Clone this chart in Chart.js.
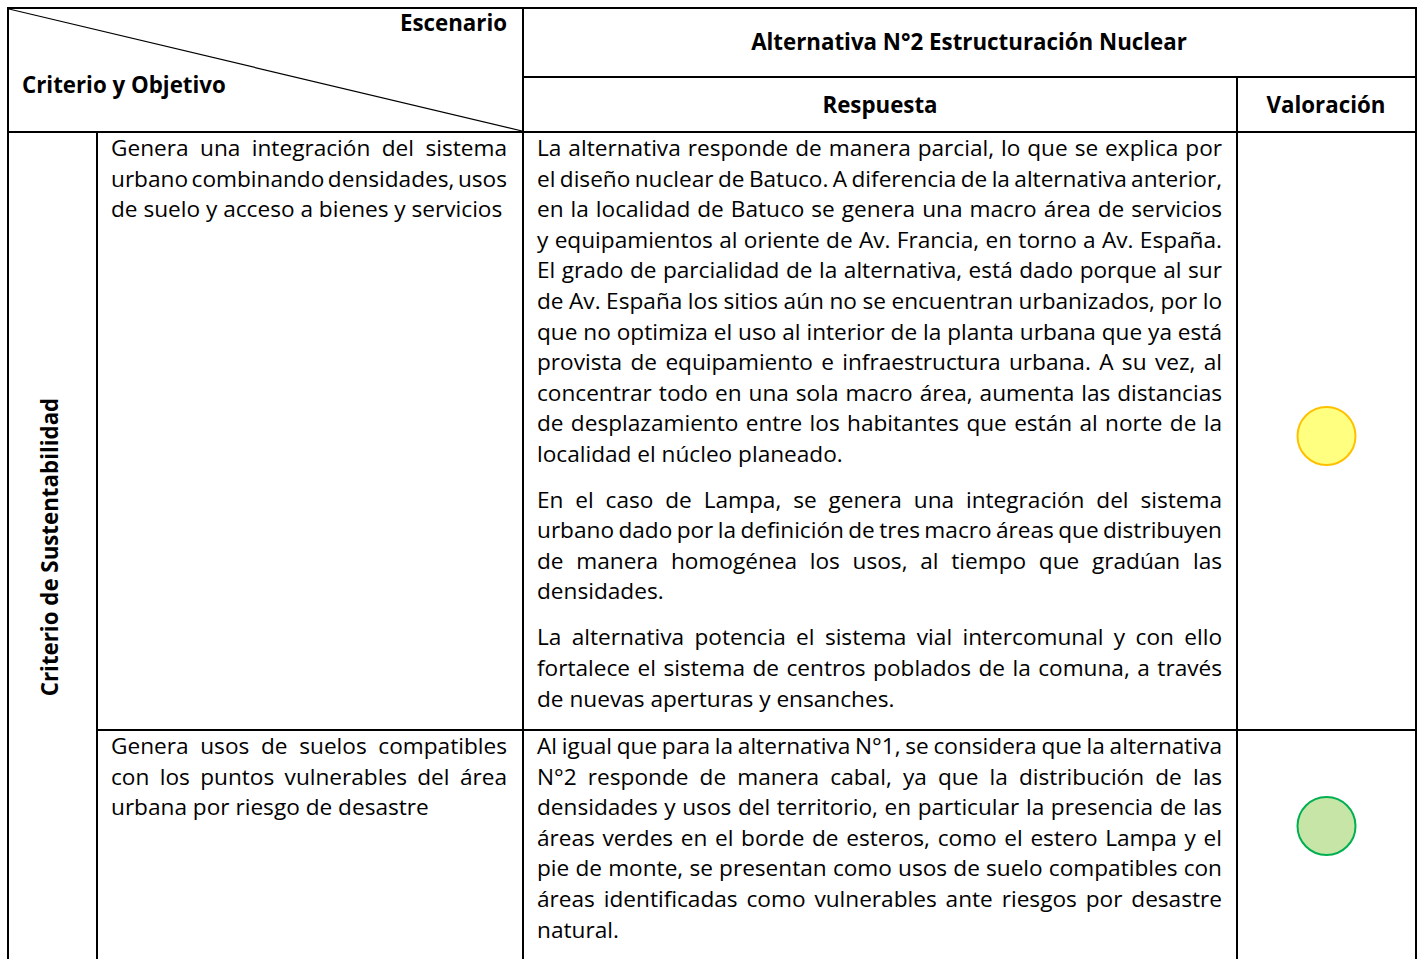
<!DOCTYPE html>
<html><head><meta charset="utf-8">
<script src="https://cdn.jsdelivr.net/npm/chart.js@4.4.1/dist/chart.umd.min.js"></script>
<style>
html,body{margin:0;padding:0;background:#fff;}
#wrap{position:relative;width:1419px;height:959px;overflow:hidden;font-family:"Open Sans",sans-serif;color:#000;}
.ln{position:absolute;background:#000;}
.t{position:absolute;white-space:nowrap;line-height:30px;height:30px;}
canvas{position:absolute;}
</style></head><body><div id="wrap"></div>
<script>
// ---------- DATA ----------
const headerScenario = 'Escenario';
const headerCriterion = 'Criterio y Objetivo';
const headerAlternative = 'Alternativa N°2 Estructuración Nuclear';
const headerAnswer = 'Respuesta';
const headerRating = 'Valoración';
const criterion = 'Criterio de Sustentabilidad';
const objectives = [
  ['Genera una integración del sistema', 'urbano combinando densidades, usos', 'de suelo y acceso a bienes y servicios'],
  ['Genera usos de suelos compatibles', 'con los puntos vulnerables del área', 'urbana por riesgo de desastre']
];
const answers = [
  [
    ['La alternativa responde de manera parcial, lo que se explica por',
     'el diseño nuclear de Batuco. A diferencia de la alternativa anterior,',
     'en la localidad de Batuco se genera una macro área de servicios',
     'y equipamientos al oriente de Av. Francia, en torno a Av. España.',
     'El grado de parcialidad de la alternativa, está dado porque al sur',
     'de Av. España los sitios aún no se encuentran urbanizados, por lo',
     'que no optimiza el uso al interior de la planta urbana que ya está',
     'provista de equipamiento e infraestructura urbana. A su vez, al',
     'concentrar todo en una sola macro área, aumenta las distancias',
     'de desplazamiento entre los habitantes que están al norte de la',
     'localidad el núcleo planeado.'],
    ['En el caso de Lampa, se genera una integración del sistema',
     'urbano dado por la definición de tres macro áreas que distribuyen',
     'de manera homogénea los usos, al tiempo que gradúan las',
     'densidades.'],
    ['La alternativa potencia el sistema vial intercomunal y con ello',
     'fortalece el sistema de centros poblados de la comuna, a través',
     'de nuevas aperturas y ensanches.']
  ],
  [
    ['Al igual que para la alternativa N°1, se considera que la alternativa',
     'N°2 responde de manera cabal, ya que la distribución de las',
     'densidades y usos del territorio, en particular la presencia de las',
     'áreas verdes en el borde de esteros, como el estero Lampa y el',
     'pie de monte, se presentan como usos de suelo compatibles con',
     'áreas identificadas como vulnerables ante riesgos por desastre',
     'natural.']
  ]
];
const ratings = ['Parcial', 'Cabal'];

// ---------- STYLE ----------
const ratingFill = {Parcial: '#FFFF80', Cabal: '#C6E5A7'};
const ratingBorder = {Parcial: '#FFC000', Cabal: '#00B050'};

const wrap = document.getElementById('wrap');
function measure(text, bold){
  const s = document.createElement('span');
  s.style.cssText = 'position:absolute;visibility:hidden;white-space:nowrap;font-size:100px;font-family:"Open Sans";font-weight:' + (bold ? 700 : 400);
  s.textContent = text;
  wrap.appendChild(s);
  const w = s.getBoundingClientRect().width;
  s.remove();
  return w;
}
const FS = 100 * 306 / measure('localidad el núcleo planeado.', false);
const FB = 100 * 436 / measure(headerAlternative, true);
function baseOff(s){ return (30 - 1.362 * s) / 2 + 1.069 * s; }

function line(x1, y1, w, h){
  const d = document.createElement('div');
  d.className = 'ln';
  d.style.left = x1 + 'px'; d.style.top = y1 + 'px';
  d.style.width = w + 'px'; d.style.height = h + 'px';
  wrap.appendChild(d);
}
function text(str, opt){
  const bold = !!opt.bold;
  const s = bold ? FB : FS;
  const d = document.createElement('div');
  d.className = 't';
  d.style.fontSize = s + 'px';
  d.style.fontWeight = bold ? 700 : 400;
  d.style.top = (opt.baseline - baseOff(s)) + 'px';
  d.textContent = str;
  wrap.appendChild(d);
  const w = d.getBoundingClientRect().width;
  if (opt.justify) {
    const spaces = (str.match(/ /g) || []).length;
    if (spaces) d.style.wordSpacing = ((opt.width - w) / spaces) + 'px';
    d.style.left = opt.x + 'px';
  } else if (opt.align === 'center') {
    d.style.left = (opt.cx - w / 2) + 'px';
  } else if (opt.align === 'right') {
    d.style.left = (opt.right - w) + 'px';
  } else {
    d.style.left = opt.x + 'px';
  }
  return d;
}

// ---------- GRID ----------
const BW = 2;
line(7, 7, 1410, BW);            // top
line(7, 7, BW, 960);             // left
line(1415, 7, BW, 960);          // right
line(522, 7, BW, 960);           // objective | answer
line(522, 76, 895, BW);          // header middle
line(1236, 76, BW, 890);         // answer | rating
line(7, 131, 1410, BW);          // header bottom
line(96, 131, BW, 840);          // criterion | objective
line(96, 729, 1321, BW);         // row split
line(7, 961, 1410, BW);          // bottom

// diagonal
const svgNS = 'http://www.w3.org/2000/svg';
const svg = document.createElementNS(svgNS, 'svg');
svg.setAttribute('width', '1419'); svg.setAttribute('height', '959');
svg.style.cssText = 'position:absolute;left:0;top:0;pointer-events:none';
const dl = document.createElementNS(svgNS, 'line');
dl.setAttribute('x1', '9'); dl.setAttribute('y1', '9');
dl.setAttribute('x2', '522'); dl.setAttribute('y2', '131');
dl.setAttribute('stroke', '#000'); dl.setAttribute('stroke-width', '1.2');
svg.appendChild(dl);
wrap.appendChild(svg);

// ---------- HEADERS ----------
text(headerScenario, {bold: true, baseline: 32, align: 'right', right: 507});
text(headerCriterion, {bold: true, baseline: 94, x: 22});
text(headerAlternative, {bold: true, baseline: 51, align: 'center', cx: 969});
text(headerAnswer, {bold: true, baseline: 114, align: 'center', cx: 880});
text(headerRating, {bold: true, baseline: 114, align: 'center', cx: 1326});

// rotated criterion
const rc = document.createElement('div');
rc.textContent = criterion;
rc.style.cssText = 'position:absolute;white-space:nowrap;font-weight:700;line-height:30px;left:50px;top:547px;transform:translate(-50%,-50%) rotate(-90deg);font-size:' + FB + 'px';
wrap.appendChild(rc);

// ---------- BODY ----------
const rowFirstBaseline = [157, 755];
const pitch = 30.55, paraGap = 15.5;
objectives.forEach((lines, r) => {
  lines.forEach((l, i) => {
    const last = i === lines.length - 1;
    text(l, {baseline: rowFirstBaseline[r] + i * pitch, x: 111, width: 396, justify: !last});
  });
});
answers.forEach((paras, r) => {
  let b = rowFirstBaseline[r];
  paras.forEach(p => {
    p.forEach((l, i) => {
      const last = i === p.length - 1;
      text(l, {baseline: b, x: 537, width: 685, justify: !last});
      b += pitch;
    });
    b += paraGap;
  });
});

// ---------- RATINGS (Chart.js) ----------
const ratingBoxes = [{top: 133, height: 606}, {top: 731, height: 190}];
ratings.forEach((rt, r) => {
  const c = document.createElement('canvas');
  const box = ratingBoxes[r];
  c.width = 177; c.height = box.height;
  c.style.left = '1238px'; c.style.top = box.top + 'px';
  c.style.width = '177px'; c.style.height = box.height + 'px';
  wrap.appendChild(c);
  new Chart(c, {
    type: 'scatter',
    data: {datasets: [{
      label: rt,
      data: [{x: 0, y: 0}],
      pointRadius: 29,
      pointBackgroundColor: ratingFill[rt],
      pointBorderColor: ratingBorder[rt],
      pointBorderWidth: 2
    }]},
    options: {
      responsive: false, animation: false,
      layout: {padding: 0},
      plugins: {legend: {display: false}, tooltip: {enabled: false}},
      scales: {
        x: {display: false, min: -1, max: 1},
        y: {display: false, min: -1, max: 1}
      }
    }
  });
});
</script>
</body></html>
